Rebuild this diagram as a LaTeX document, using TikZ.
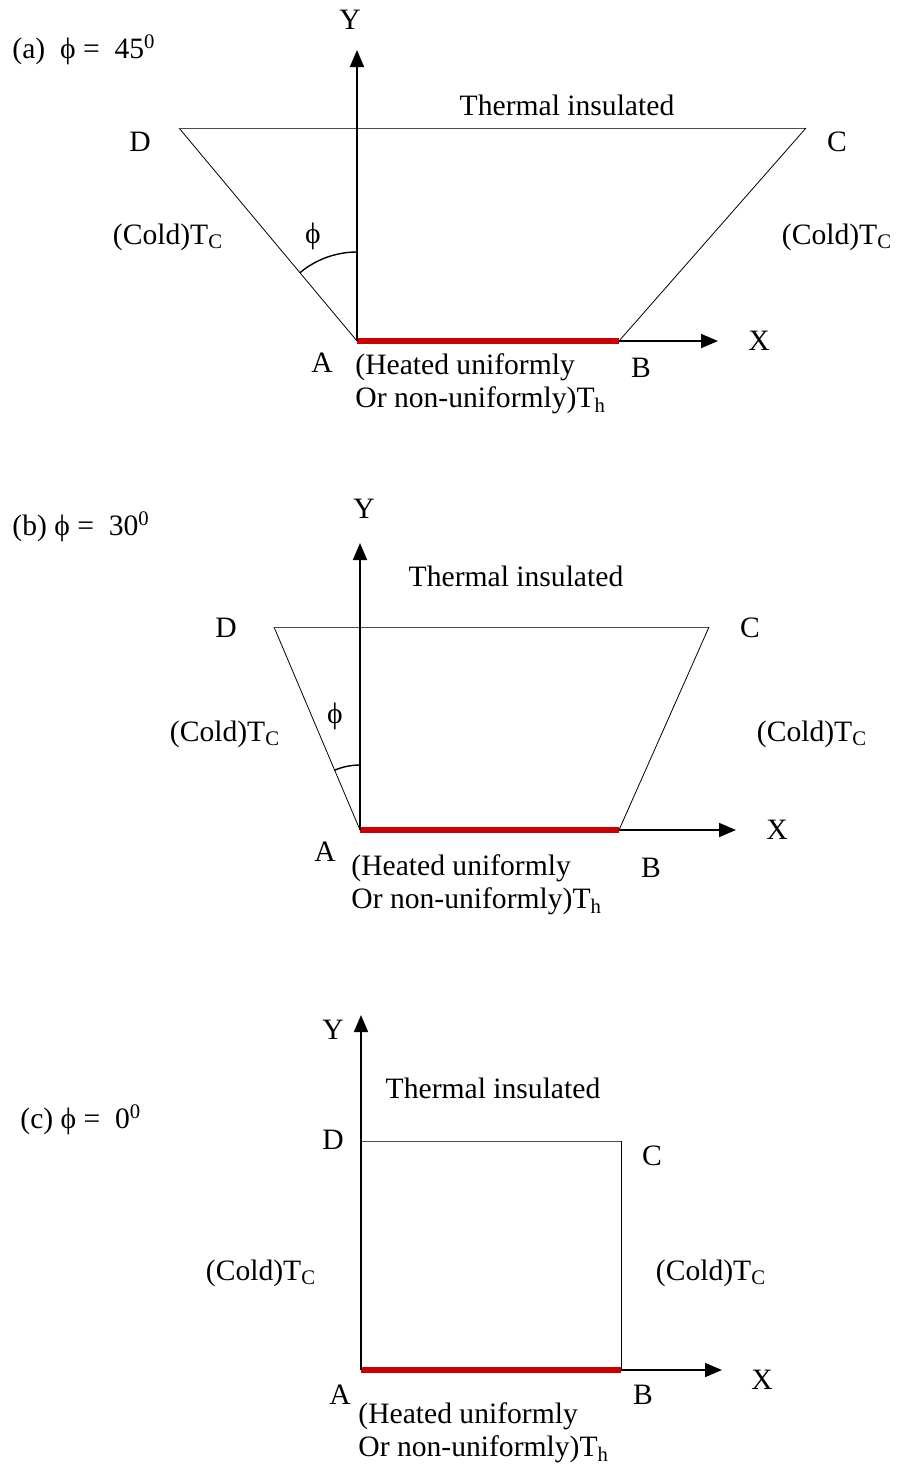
\documentclass[tikz,border=0pt]{standalone}
\usepackage{fontspec}
\setmainfont{Liberation Serif}
\usetikzlibrary{arrows.meta}
\definecolor{heat}{HTML}{CC0000}
\tikzset{axis/.style={-{Triangle[length=8.5pt,width=7pt]},line width=0.9pt},
  wall/.style={line width=0.4pt},
  lid/.style={line width=0.5pt,draw=black!70},
  heated/.style={line width=2.6pt,draw=heat},
  lbl/.style={font=\fontsize{14.8}{16.5}\selectfont,inner sep=0pt},
  note/.style={lbl,align=left,anchor=west}}

\begin{document}
\begin{tikzpicture}[x=0.5pt,y=-0.5pt]
\useasboundingbox (0,0) rectangle (898,1469);
% (a) phi = 45
\coordinate (Aa) at (357,341); \coordinate (Ba) at (619,341);
\coordinate (Ca) at (806,128); \coordinate (Da) at (179,128);
\coordinate (Ya) at (357,50);  \coordinate (Xa) at (718,341);
\draw[wall] (Aa) -- (Da); \draw[lid] (Da) -- (Ca); \draw[wall] (Ca) -- (Ba);
\draw[axis] (Ba) -- (Xa);
\draw[heated] (Aa) -- (Ba);
\draw[axis] (Aa) -- (Ya);
\draw[line width=0.7pt] (357,252) arc[start angle=-90,end angle=-130,radius=89];
\node[lbl,anchor=west] (ta) at (12,50) {(a)\ \ ϕ =\ \ 45\textsuperscript{0}};
\node[lbl] (ya) at (350,20) {Y};
\node[lbl] (xa) at (759,341) {X};
\node[lbl] (ia) at (567,105) {Thermal insulated};
\node[lbl] (da) at (140,142) {D};
\node[lbl] (ca) at (837,142) {C};
\node[lbl] (aa) at (322,363) {A};
\node[lbl] (ba) at (641,368) {B};
\node[lbl] (pa) at (313,236) {ϕ};
\node[lbl] (la) at (168,237) {(Cold)T\textsubscript{C}};
\node[lbl] (ra) at (837,237) {(Cold)T\textsubscript{C}};
\node[note] (ha) at (355,384) {(Heated uniformly\\Or non-uniformly)T\textsubscript{h}};
% (b) phi = 30
\coordinate (Ab) at (360,830); \coordinate (Bb) at (619,830);
\coordinate (Cb) at (709,627); \coordinate (Db) at (274,627);
\coordinate (Yb) at (360,543); \coordinate (Xb) at (736,830);
\draw[wall] (Ab) -- (Db); \draw[lid] (Db) -- (Cb); \draw[wall] (Cb) -- (Bb);
\draw[axis] (Bb) -- (Xb);
\draw[heated] (Ab) -- (Bb);
\draw[axis] (Ab) -- (Yb);
\draw[line width=0.7pt] (360,765) arc[start angle=-90,end angle=-113,radius=65];
\node[lbl,anchor=west] (tb) at (12,527) {(b) ϕ =\ \ 30\textsuperscript{0}};
\node[lbl] (yb) at (364,509) {Y};
\node[lbl] (xb) at (777,830) {X};
\node[lbl] (ib) at (516,576) {Thermal insulated};
\node[lbl] (db) at (226,628) {D};
\node[lbl] (cb) at (750,628) {C};
\node[lbl] (ab) at (325,852) {A};
\node[lbl] (bb) at (651,868) {B};
\node[lbl] (pb) at (335,716) {ϕ};
\node[lbl] (lb) at (225,734) {(Cold)T\textsubscript{C}};
\node[lbl] (rb) at (812,734) {(Cold)T\textsubscript{C}};
\node[note] (hb) at (351,885) {(Heated uniformly\\Or non-uniformly)T\textsubscript{h}};
% (c) phi = 0
\coordinate (Ac) at (361,1370); \coordinate (Bc) at (621,1370);
\coordinate (Cc) at (621,1141); \coordinate (Dc) at (361,1141);
\coordinate (Yc) at (361,1015); \coordinate (Xc) at (722,1370);
\draw[lid] (Dc) -- (Cc); \draw[wall] (Cc) -- (Bc);
\draw[axis] (Bc) -- (Xc);
\draw[heated] (Ac) -- (Bc);
\draw[axis] (Ac) -- (Yc);
\node[lbl,anchor=west] (tc) at (20,1120) {(c) ϕ =\ \ 0\textsuperscript{0}};
\node[lbl] (yc) at (333,1030) {Y};
\node[lbl] (xc) at (762,1380) {X};
\node[lbl] (ic) at (493,1088) {Thermal insulated};
\node[lbl] (dc) at (333,1140) {D};
\node[lbl] (cc) at (652,1156) {C};
\node[lbl] (ac) at (340,1395) {A};
\node[lbl] (bc) at (643,1395) {B};
\node[lbl] (lc) at (261,1273) {(Cold)T\textsubscript{C}};
\node[lbl] (rc) at (711,1273) {(Cold)T\textsubscript{C}};
\node[note] (hc) at (358,1433) {(Heated uniformly\\Or non-uniformly)T\textsubscript{h}};
\end{tikzpicture}
\end{document}
